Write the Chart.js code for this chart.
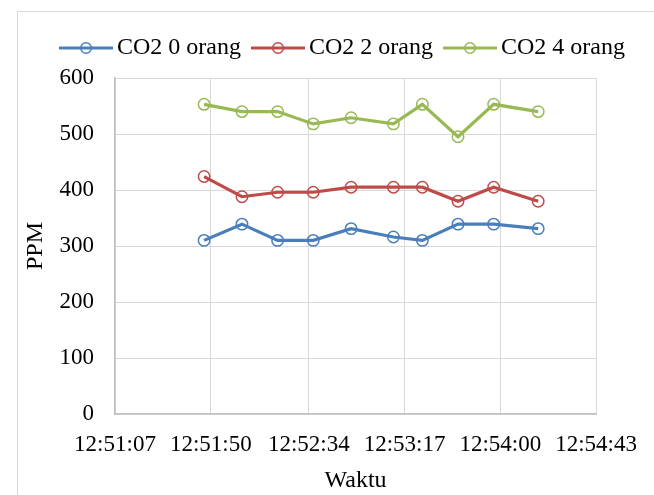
<!DOCTYPE html>
<html>
<head>
<meta charset="utf-8">
<script src="https://cdn.jsdelivr.net/npm/chart.js@4/dist/chart.umd.min.js"></script>
<style>
  html, body { margin: 0; padding: 0; background: #fff; }
  #wrap { position: relative; width: 654px; height: 495px; overflow: hidden; }
  #frame { position: absolute; left: 17px; top: 11px; width: 660px; height: 500px; border: 1px solid #d9d9d9; box-sizing: border-box; }
  canvas { position: absolute; left: 0; top: 0; }
</style>
</head>
<body>
<div id="wrap">
  <div id="frame"></div>
  <canvas id="line-chart" width="654" height="495"></canvas>
</div>
<script>
// waktu pengukuran (jam:menit:detik)
var waktu = ["12:51:47", "12:52:04", "12:52:20", "12:52:36", "12:52:53",
             "12:53:12", "12:53:25", "12:53:41", "12:53:57", "12:54:17"];
var co2_0 = [310, 339, 310, 310, 331, 316, 310, 339, 339, 331];
var co2_2 = [424, 388, 396, 396, 405, 405, 405, 380, 405, 380];
var co2_4 = [553, 540, 540, 518, 529, 518, 553, 495, 553, 540];
var xTicks = ["12:51:07", "12:51:50", "12:52:34", "12:53:17", "12:54:00", "12:54:43"];
var yTicks = [0, 100, 200, 300, 400, 500, 600];

function toSec(t) {
  var p = t.split(":");
  return (+p[0]) * 3600 + (+p[1]) * 60 + (+p[2]);
}

function points(vals) {
  return vals.map(function (v, i) { return { x: toSec(waktu[i]), y: v }; });
}

// legend marker: garis dengan lingkaran di tengah
function legendMark(color) {
  var c = document.createElement("canvas");
  c.width = 54; c.height = 14;
  var g = c.getContext("2d");
  g.strokeStyle = color;
  g.lineWidth = 3;
  g.beginPath(); g.moveTo(0, 7); g.lineTo(54, 7); g.stroke();
  g.lineWidth = 1.5;
  g.beginPath(); g.arc(27, 7, 5.3, 0, Math.PI * 2); g.stroke();
  return c;
}

var font = "'Liberation Serif', 'Times New Roman', serif";
var colors = ["#4a7ebb", "#be4b48", "#98b954"];

function series(label, vals, color) {
  return {
    label: label,
    data: points(vals),
    borderColor: color,
    backgroundColor: "transparent",
    borderWidth: 3.2,
    pointRadius: 5.7,
    pointHoverRadius: 5.7,
    pointBorderWidth: 1.5,
    pointBackgroundColor: "transparent",
    pointBorderColor: color,
    pointStyle: "circle",
    legendMark: legendMark(color),
    tension: 0,
    fill: false
  };
}

new Chart(document.getElementById("line-chart"), {
  type: "line",
  data: {
    datasets: [
      series("CO2 0 orang", co2_0, colors[0]),
      series("CO2 2 orang", co2_2, colors[1]),
      series("CO2 4 orang", co2_4, colors[2])
    ]
  },
  options: {
    responsive: false,
    animation: false,
    layout: { padding: { left: 38, top: 18, right: 0, bottom: 0 } },
    plugins: {
      tooltip: { enabled: false },
      legend: {
        position: "top",
        labels: {
          font: { family: font, size: 24 },
          color: "#000",
          usePointStyle: true,
          pointStyleWidth: 38,
          boxHeight: 14,
          padding: 18,
          generateLabels: function (chart) {
            return chart.data.datasets.map(function (ds, i) {
              return {
                text: ds.label,
                pointStyle: ds.legendMark,
                fillStyle: "transparent",
                strokeStyle: ds.borderColor,
                lineWidth: 0,
                fontColor: "#000",
                hidden: false,
                datasetIndex: i
              };
            });
          }
        }
      }
    },
    scales: {
      x: {
        type: "linear",
        min: toSec(xTicks[0]),
        max: toSec(xTicks[xTicks.length - 1]),
        afterBuildTicks: function (s) {
          s.ticks = xTicks.map(function (t) { return { value: toSec(t) }; });
        },
        afterFit: function (s) { s.height = 81; },
        ticks: {
          autoSkip: false,
          maxRotation: 0,
          padding: 17,
          font: { family: font, size: 23 },
          color: "#000",
          callback: function (v, i) { return xTicks[i]; }
        },
        grid: { color: "#d9d9d9", lineWidth: 1, drawTicks: false },
        border: { color: "#bfbfbf", width: 1.5 },
        title: {
          display: true,
          text: "Waktu",
          font: { family: font, size: 24 },
          color: "#000",
          padding: { top: 0, bottom: 0 }
        }
      },
      xAtas: {
        type: "linear",
        position: "top",
        display: true,
        afterFit: function (s) { s.height = 8; },
        ticks: { display: false },
        grid: { display: false, drawTicks: false },
        border: { display: false }
      },
      y: {
        min: yTicks[0],
        max: yTicks[yTicks.length - 1],
        afterBuildTicks: function (s) {
          s.ticks = yTicks.map(function (v) { return { value: v }; });
        },
        afterFit: function (s) { s.width = 77; },
        ticks: {
          padding: 21,
          font: { family: font, size: 23 },
          color: "#000"
        },
        grid: { color: "#d9d9d9", lineWidth: 1, drawTicks: false },
        border: { color: "#bfbfbf", width: 1.5 },
        title: {
          display: true,
          text: "PPM",
          font: { family: font, size: 24 },
          color: "#000",
          padding: { top: -17, bottom: 0 }
        }
      },
      yKanan: {
        position: "right",
        display: true,
        afterFit: function (s) { s.width = 53; },
        ticks: { display: false },
        grid: { display: false, drawTicks: false },
        border: { display: false }
      }
    }
  }
});
</script>
</body>
</html>
